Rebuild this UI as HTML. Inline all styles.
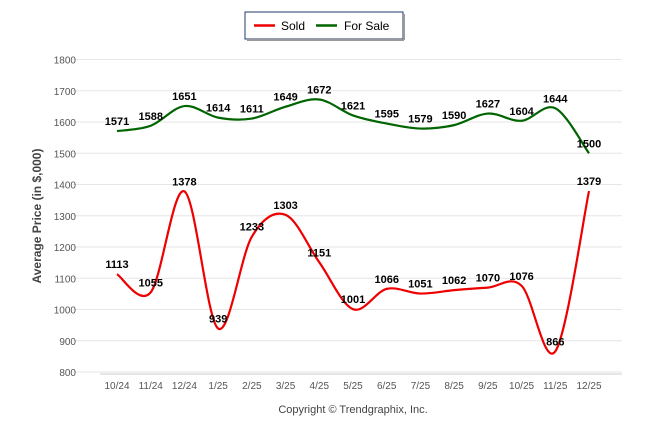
<!DOCTYPE html>
<html><head><meta charset="utf-8"><style>
body{margin:0;background:#fff;width:646px;height:434px;overflow:hidden;font-family:"Liberation Sans",sans-serif;}
</style></head><body>
<svg id="chart" width="646" height="434">
<rect x="245" y="12" width="158" height="27" fill="#fff" stroke="#1f3a6e" stroke-width="1"/>
<line x1="404" y1="14" x2="404" y2="40" stroke="#999" stroke-width="2"/>
<line x1="247" y1="40" x2="404" y2="40" stroke="#999" stroke-width="2"/>
<line x1="254" y1="25.5" x2="275" y2="25.5" stroke="#ee0000" stroke-width="2.5"/>
<text x="281" y="30" font-size="12" fill="#000">Sold</text>
<line x1="316" y1="25.5" x2="337" y2="25.5" stroke="#006400" stroke-width="2.5"/>
<text x="344" y="30" font-size="12" fill="#000">For Sale</text>
<text transform="translate(41,216) rotate(-90)" text-anchor="middle" font-size="12" font-weight="bold" fill="#444">Average Price (in $,000)</text>
<text x="353" y="413" text-anchor="middle" font-size="11" fill="#444">Copyright © Trendgraphix, Inc.</text>
<g id="grid"></g><g id="series"></g><g id="labels"></g>
</svg>
<script>
const categories=["10/24","11/24","12/24","1/25","2/25","3/25","4/25","5/25","6/25","7/25","8/25","9/25","10/25","11/25","12/25"];
const sold=[1113,1055,1378,939,1233,1303,1151,1001,1066,1051,1062,1070,1076,866,1379];
const forSale=[1571,1588,1651,1614,1611,1649,1672,1621,1595,1579,1590,1627,1604,1644,1500];
const yTicks=[800,900,1000,1100,1200,1300,1400,1500,1600,1700,1800];
const NS="http://www.w3.org/2000/svg";
const x=i=>117+i*(589-117)/(categories.length-1);
const y=v=>372-(v-800)*0.3125;
function mk(t,a,parent){const e=document.createElementNS(NS,t);for(const k in a)e.setAttribute(k,a[k]);document.getElementById(parent).appendChild(e);return e;}
yTicks.forEach(v=>{
 const l=mk('line',{x1:73,x2:622,y1:y(v),y2:y(v),stroke:'#e6e6e6','stroke-width':1},'grid');
 
 
 const t=mk('text',{x:76,y:y(v)+4,'text-anchor':'end','font-size':10,fill:'#555'},'grid');t.textContent=v;
 
 
});
mk('line',{x1:100,x2:622,y1:374,y2:374,stroke:'#ccc'},'grid');
categories.forEach((c,i)=>{
 const t=mk('text',{x:x(i),y:389,'text-anchor':'middle','font-size':10,fill:'#555'},'grid');t.textContent=c;
 
 
});
function path(vals){
 const p=vals.map((v,i)=>[x(i),y(v)]);let d='M'+p[0][0]+','+p[0][1];
 for(let i=0;i<p.length-1;i++){const p0=p[Math.max(0,i-1)],p1=p[i],p2=p[i+1],p3=p[Math.min(p.length-1,i+2)];
  const k=1/6;d+=` C${p1[0]+(p2[0]-p0[0])*k},${p1[1]+(p2[1]-p0[1])*k} ${p2[0]-(p3[0]-p1[0])*k},${p2[1]-(p3[1]-p1[1])*k} ${p2[0]},${p2[1]}`;}
 return d;}
[[forSale,'#006400','for-sale'],[sold,'#ee0000','sold']].forEach(([vals,col,n])=>{
 const l=mk('path',{d:path(vals),fill:'none',stroke:col,'stroke-width':2.2},'series');
 
 
 vals.forEach((v,i)=>{
  const t=mk('text',{x:x(i),y:y(v)-6,'text-anchor':'middle','font-size':11,'font-weight':'bold',fill:'#000'},'labels');t.textContent=v;
  
  
 });
});
</script>
</body></html>
